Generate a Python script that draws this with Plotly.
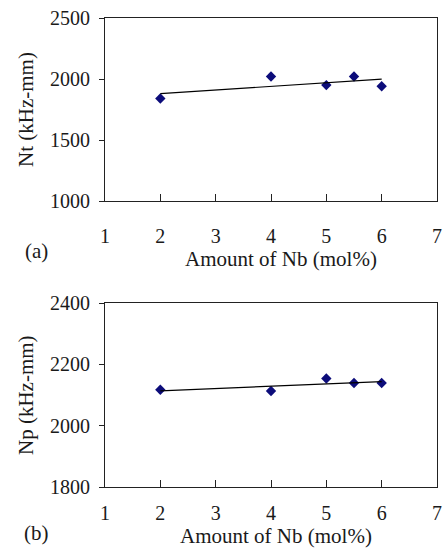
import numpy as np
import plotly.graph_objects as go
from plotly.subplots import make_subplots

# Data
nb_amount = [2, 4, 5, 5.5, 6]
nt_values = [1840, 2020, 1950, 2020, 1940]
np_values = [2117, 2113, 2154, 2139, 2139]

x_ticks = [1, 2, 3, 4, 5, 6, 7]
nt_ticks = [1000, 1500, 2000, 2500]
np_ticks = [1800, 2000, 2200, 2400]

x_title = "Amount of Nb (mol%)"
nt_title = "Nt (kHz-mm)"
np_title = "Np (kHz-mm)"
panel_labels = ["(a)", "(b)"]

FONT = "Liberation Serif, Times New Roman, serif"
TXT = "#1a1a1a"
MARK = "#0c0c7a"
TICK_SIZE = 20
TITLE_SIZE = 21

W, H = 446, 554
L, R, T, B = 105, 9, 18, 67
PH = H - T - B  # plotting height in px

def frac(py):
    return (H - B - py) / PH

fig = make_subplots(rows=2, cols=1)

for row, yvals in [(1, nt_values), (2, np_values)]:
    fig.add_trace(go.Scatter(
        x=nb_amount, y=yvals, mode="markers",
        marker=dict(symbol="diamond", size=8, color=MARK),
        showlegend=False), row=row, col=1)
    slope, icpt = np.polyfit(nb_amount, yvals, 1)
    xl = [min(nb_amount), max(nb_amount)]
    fig.add_trace(go.Scatter(
        x=xl, y=[slope * v + icpt for v in xl], mode="lines",
        line=dict(color="black", width=1.2),
        showlegend=False), row=row, col=1)

axis_common = dict(showline=True, linecolor="#222", linewidth=1.2, mirror=True,
                   showgrid=False, zeroline=False, automargin=False,
                   tickfont=dict(family=FONT, size=TICK_SIZE, color=TXT))

fig.update_xaxes(range=[1, 7], tickvals=x_ticks, ticks="inside", ticklen=7,
                 tickcolor="#222", ticklabelstandoff=17, row=1, col=1, **axis_common)
fig.update_xaxes(range=[1, 7], tickvals=x_ticks, ticks="inside", ticklen=7,
                 tickcolor="#222", ticklabelstandoff=8, row=2, col=1, **axis_common)
fig.update_yaxes(range=[1000, 2500], tickvals=nt_ticks, ticks="outside", ticklen=5,
                 tickcolor="#222", ticklabelstandoff=5, row=1, col=1, **axis_common)
fig.update_yaxes(range=[1800, 2400], tickvals=np_ticks, ticks="outside", ticklen=5,
                 tickcolor="#222", ticklabelstandoff=5, row=2, col=1, **axis_common)

fig.update_layout(
    width=W, height=H,
    template="none",
    margin=dict(l=L, r=R, t=T, b=B),
    paper_bgcolor="white", plot_bgcolor="white",
    yaxis=dict(domain=[frac(201), 1.0]),
    yaxis2=dict(domain=[0.0, frac(303)]),
)

def px_x(px):
    return (px - L) / (W - L - R)

title_font = dict(family=FONT, size=TITLE_SIZE, color=TXT)
# x axis titles
fig.add_annotation(text=x_title, xref="paper", yref="paper", x=px_x(281), y=frac(259),
                   showarrow=False, xanchor="center", yanchor="middle", font=title_font)
fig.add_annotation(text=x_title, xref="paper", yref="paper", x=px_x(276), y=frac(536),
                   showarrow=False, xanchor="center", yanchor="middle", font=title_font)
# y axis titles
fig.add_annotation(text=nt_title, xref="paper", yref="paper", x=px_x(26), y=frac(110),
                   textangle=-90, showarrow=False, xanchor="center", yanchor="middle",
                   font=title_font)
fig.add_annotation(text=np_title, xref="paper", yref="paper", x=px_x(26), y=frac(395),
                   textangle=-90, showarrow=False, xanchor="center", yanchor="middle",
                   font=title_font)
# panel labels
fig.add_annotation(text=panel_labels[0], xref="paper", yref="paper", x=px_x(36), y=frac(251),
                   showarrow=False, xanchor="center", yanchor="middle", font=title_font)
fig.add_annotation(text=panel_labels[1], xref="paper", yref="paper", x=px_x(36), y=frac(533),
                   showarrow=False, xanchor="center", yanchor="middle", font=title_font)

fig.write_html("out.html", config={"displayModeBar": False},
               post_script="document.body.style.margin='0';")
